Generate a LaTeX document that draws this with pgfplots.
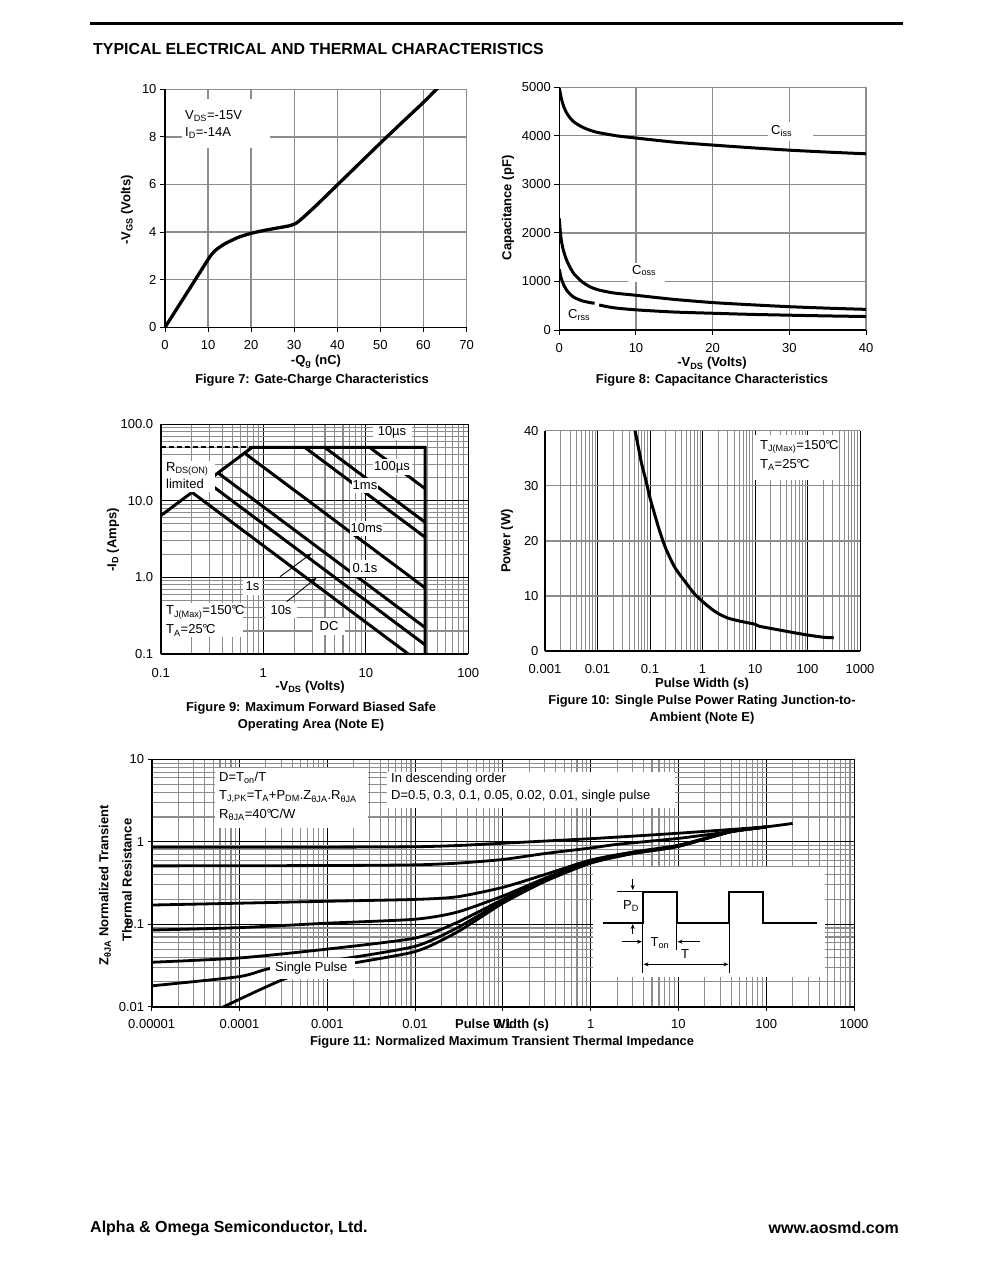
\documentclass[border=0pt]{standalone}
\usepackage{fontspec}
\setmainfont{Liberation Sans}
\usepackage{pgfplots}
\pgfplotsset{compat=1.18}
\usetikzlibrary{arrows.meta}
\definecolor{gridgray}{RGB}{140,140,140}
\newcommand{\fs}[1]{\fontsize{#1}{#1}\selectfont}
\newcommand{\sub}[1]{\textsubscript{#1}}
\newcommand{\degC}{\kern-0.3pt°\kern-1.6ptC}
\pgfplotsset{
  dsbase/.style={scale only axis, anchor=south west, axis x line*=bottom, axis y line*=left,
    axis line style={black,line width=1.5pt}, ticklabel style={font=\fs{13}}, clip=true},
}
\begin{document}
\begin{tikzpicture}
\path[use as bounding box] (0pt,0pt) rectangle (991pt,-1273pt);

% ---------------- Figure 7 ----------------
\begin{axis}[dsbase, at={(165pt,-327.3pt)}, width=301.5pt, height=238pt,
  xmin=0,xmax=70,ymin=0,ymax=10,
  xtick={0,10,20,30,40,50,60,70}, xticklabels={0,10,20,30,40,50,60,70},
  ytick={0,2,4,6,8,10}, yticklabels={0,2,4,6,8,10},
  grid=major, major grid style={gridgray,line width=1.3pt},
  tick align=outside, major tick length=5pt, tick style={black,line width=1pt},
  xticklabel style={yshift=-5pt}]
\addplot[black, line width=3.3pt, smooth, tension=0.3] coordinates {
(0,0)(5,1.42)(10,2.85)(11,3.1)(12,3.28)(14,3.52)(17,3.78)(20,3.95)(23,4.07)(26,4.17)(29,4.27)(30.5,4.38)(32,4.6)(35,5.1)(40,5.98)(45,6.86)(50,7.74)(55,8.6)(60,9.45)(63.3,10.05)};
\end{axis}

% ---------------- Figure 8 ----------------
\begin{axis}[dsbase, at={(559.3pt,-330pt)}, width=306.7pt, height=242.7pt,
  xmin=0,xmax=40,ymin=0,ymax=5000,
  xtick={0,10,20,30,40}, xticklabels={0,10,20,30,40},
  ytick={0,1000,2000,3000,4000,5000}, yticklabels={0,1000,2000,3000,4000,5000},
  grid=major, major grid style={gridgray,line width=1.3pt},
  tick align=outside, major tick length=5pt, tick style={black,line width=1pt},
  xticklabel style={yshift=-5pt}]
\addplot[black, line width=3pt, smooth, tension=0.4] coordinates {
(0,4980)(0.15,4860)(0.3,4750)(0.6,4590)(1,4460)(1.5,4350)(2,4275)(3,4180)(4,4115)(5,4070)(7.5,4000)(10,3955)(15,3870)(20,3810)(25,3755)(30,3705)(35,3665)(40,3630)};
\addplot[black, line width=3pt, smooth, tension=0.4] coordinates {
(0,2300)(0.1,2080)(0.25,1860)(0.5,1660)(0.75,1530)(1,1420)(1.5,1260)(2,1140)(3,990)(4,890)(5,830)(7,765)(10,715)(15,630)(20,565)(25,520)(30,480)(35,450)(40,425)};
\addplot[black, line width=3pt, smooth, tension=0.4] coordinates {
(0,1250)(0.15,1130)(0.3,1040)(0.6,920)(1,810)(1.5,725)(2,665)(3,600)(4,565)(4.6,550)};
\addplot[black, line width=3pt, smooth, tension=0.4] coordinates {
(5.2,515)(7,460)(10,415)(15,370)(20,345)(25,322)(30,305)(35,290)(40,278)};
\end{axis}

% ---------------- Figure 9 ----------------
\begin{axis}[dsbase, at={(160.7pt,-654pt)}, width=307.6pt, height=229.7pt,
  xmode=log, ymode=log, xmin=0.1,xmax=100,ymin=0.1,ymax=100,
  xtick={0.1,1,10,100}, xticklabels={0.1,1,10,100},
  ytick={0.1,1,10,100}, yticklabels={0.1,1.0,10.0,100.0},
  minor xtick={0.2,0.3,0.4,0.5,0.6,0.7,0.8,0.9,2,3,4,5,6,7,8,9,20,30,40,50,60,70,80,90},
  minor ytick={0.2,0.3,0.4,0.5,0.6,0.7,0.8,0.9,2,3,4,5,6,7,8,9,20,30,40,50,60,70,80,90},
  grid=both, major grid style={black,line width=0.9pt}, minor grid style={gridgray,line width=1.1pt},
  major tick length=0pt, minor tick length=0pt, axis line style={black,line width=1.8pt},
  xticklabel style={yshift=-11pt}, yticklabel style={xshift=-4pt}]
\addplot[black, line width=1.8pt, dash pattern=on 5pt off 3pt] coordinates {(0.1,50)(0.78,50)};
\addplot[black, line width=3pt, line join=miter] coordinates {(0.1,6.4)(0.78,50)(38,50)(38,0.1)};
\addplot[black, line width=3pt] coordinates {(0.204,12.8)(26,0.1)};
\addplot[black, line width=3pt] coordinates {(0.279,17.9)(38,0.1316)};
\addplot[black, line width=3pt] coordinates {(0.362,23.2)(38,0.221)};
\addplot[black, line width=3pt] coordinates {(0.657,42.1)(38,0.729)};
\addplot[black, line width=3pt] coordinates {(2.54,50)(38,3.34)};
\addplot[black, line width=3pt] coordinates {(3.98,50)(38,5.24)};
\addplot[black, line width=3pt] coordinates {(10.9,50)(38,14.4)};
\end{axis}

% ---------------- Figure 10 ----------------
\begin{axis}[dsbase, at={(545pt,-651pt)}, width=315pt, height=220.3pt,
  xmode=log, xmin=0.001,xmax=1000,ymin=0,ymax=40,
  xtick={0.001,0.01,0.1,1,10,100,1000}, xticklabels={0.001,0.01,0.1,1,10,100,1000},
  ytick={0,10,20,30,40}, yticklabels={0,10,20,30,40},
  minor xtick={0.002,0.003,0.004,0.005,0.006,0.007,0.008,0.009,0.02,0.03,0.04,0.05,0.06,0.07,0.08,0.09,0.2,0.3,0.4,0.5,0.6,0.7,0.8,0.9,2,3,4,5,6,7,8,9,20,30,40,50,60,70,80,90,200,300,400,500,600,700,800,900},
  xmajorgrids, xminorgrids, ymajorgrids,
  major x grid style={black,line width=0.9pt}, minor x grid style={gridgray,line width=1.1pt},
  major y grid style={gridgray,line width=1.3pt},
  major tick length=0pt, minor tick length=0pt, axis line style={black,line width=1.8pt},
  xticklabel style={yshift=-10pt}, yticklabel style={xshift=-3pt}]
\addplot[black, line width=3pt, smooth, tension=0.4] coordinates {
(0.0518,40)(0.06,37)(0.07,33.8)(0.085,30.7)(0.1,27.8)(0.15,22)(0.2,18.6)(0.3,15.1)(0.5,12.2)(0.7,10.4)(1,9.0)(1.5,7.6)(2,6.8)(3,6.0)(5,5.45)(8,5.05)(10,4.85)(12,4.5)(20,4.1)(50,3.4)(100,2.9)(200,2.5)(316,2.4)};
\end{axis}

% ---------------- Figure 11 ----------------
\begin{axis}[dsbase, at={(151.7pt,-1006.7pt)}, width=702.3pt, height=247.4pt,
  xmode=log, ymode=log, xmin=1e-5,xmax=1000,ymin=0.01,ymax=10,
  xtick={1e-5,1e-4,1e-3,1e-2,0.1,1,10,100,1000},
  xticklabels={0.00001,0.0001,0.001,0.01,0.1,1,10,100,1000},
  ytick={0.01,0.1,1,10}, yticklabels={0.01,0.1,1,10},
  minor xtick={2e-5,3e-5,4e-5,5e-5,6e-5,7e-5,8e-5,9e-5,2e-4,3e-4,4e-4,5e-4,6e-4,7e-4,8e-4,9e-4,2e-3,3e-3,4e-3,5e-3,6e-3,7e-3,8e-3,9e-3,0.02,0.03,0.04,0.05,0.06,0.07,0.08,0.09,0.2,0.3,0.4,0.5,0.6,0.7,0.8,0.9,2,3,4,5,6,7,8,9,20,30,40,50,60,70,80,90,200,300,400,500,600,700,800,900},
  minor ytick={0.02,0.03,0.04,0.05,0.06,0.07,0.08,0.09,0.2,0.3,0.4,0.5,0.6,0.7,0.8,0.9,2,3,4,5,6,7,8,9},
  grid=both, major grid style={black,line width=0.9pt}, minor grid style={gridgray,line width=1.1pt},
  tick align=outside, major tick length=4pt, minor tick length=0pt, tick style={black,line width=1pt},
  axis line style={black,line width=1.8pt},
  xticklabel style={yshift=-5pt}]
\addplot[black, line width=2.8pt, smooth, tension=0.4] coordinates {
(1e-5,0.857)(1e-3,0.86)(0.01,0.87)(0.03,0.9)(0.1,0.96)(0.3,1.02)(1,1.09)(3,1.17)(10,1.27)(30,1.38)(100,1.52)(200,1.67)};
\addplot[black, line width=2.8pt, smooth, tension=0.4] coordinates {
(1e-5,0.51)(1e-3,0.515)(0.01,0.525)(0.03,0.55)(0.1,0.61)(0.3,0.72)(1,0.84)(2,0.93)(10,1.1)(40,1.33)(100,1.51)};
\addplot[black, line width=2.8pt, smooth, tension=0.4] coordinates {
(1e-5,0.171)(1e-4,0.18)(1e-3,0.19)(0.01,0.2)(0.03,0.215)(0.1,0.28)(0.3,0.4)(1,0.6)(3,0.75)(10,0.91)(40,1.33)(100,1.51)};
\addplot[black, line width=2.8pt, smooth, tension=0.4] coordinates {
(1e-5,0.085)(1e-4,0.091)(1e-3,0.103)(0.01,0.115)(0.03,0.14)(0.1,0.22)(0.3,0.36)(1,0.58)(3,0.74)(10,0.9)(40,1.33)(100,1.51)};
\addplot[black, line width=2.8pt, smooth, tension=0.4] coordinates {
(1e-5,0.0346)(1e-4,0.039)(1e-3,0.05)(0.01,0.068)(0.03,0.105)(0.1,0.2)(0.3,0.35)(1,0.57)(3,0.73)(10,0.89)(40,1.33)(100,1.51)};
\addplot[black, line width=2.8pt, smooth, tension=0.4] coordinates {
(1e-5,0.0179)(1e-4,0.0232)(2.3e-4,0.0293)(1.4e-3,0.0376)(0.01,0.054)(0.03,0.09)(0.1,0.19)(0.3,0.34)(1,0.56)(3,0.72)(10,0.88)(40,1.33)(100,1.51)};
\addplot[black, line width=2.8pt, smooth, tension=0.4] coordinates {
(6e-5,0.0095)(3.4e-4,0.0221)(1.4e-3,0.0316)(0.01,0.0466)(0.03,0.08)(0.1,0.18)(0.3,0.33)(1,0.55)(3,0.72)(10,0.88)(40,1.33)(100,1.51)};
\end{axis}

% ---------------- annotations in page coordinates ----------------
\begin{scope}[x=1pt,y=-1pt, every node/.style={inner sep=0pt, font=\fs{13}}]
% page header / footer
\draw[line width=3pt] (90,24) -- (903,24);
\node[anchor=west, font=\bfseries\fs{15.9}] at (93,49) {TYPICAL ELECTRICAL AND THERMAL CHARACTERISTICS};
\node[anchor=west, font=\bfseries\fs{16}] at (90,1228) {Alpha \& Omega Semiconductor, Ltd.};
\node[anchor=east, font=\bfseries\fs{16}] at (899,1228) {www.aosmd.com};

% Fig 7
\fill[white] (182,99) rectangle (270,148);
\node[anchor=west] at (185,116) {V\sub{DS}=-15V};
\node[anchor=west] at (185,133) {I\sub{D}=-14A};
\node[rotate=90, font=\bfseries\fs{13}] at (127,210) {-V\sub{GS} (Volts)};
\node[font=\bfseries\fs{13}] at (316,362) {-Q\sub{g} (nC)};
\node[font=\bfseries\fs{12.9}] at (312,380) {Figure 7: Gate-Charge Characteristics};

% Fig 8
\fill[white] (768,122) rectangle (813,141);
\node[anchor=west] at (771,131) {C\sub{iss}};
\fill[white] (628,263) rectangle (665,282);
\node[anchor=west] at (632,270.5) {C\sub{oss}};
\node[anchor=west] at (568,315) {C\sub{rss}};
\node[rotate=90, font=\bfseries\fs{13}] at (508,208) {Capacitance (pF)};
\node[font=\bfseries\fs{13}] at (712,363.5) {-V\sub{DS} (Volts)};
\node[font=\bfseries\fs{12.9}] at (712,380) {Figure 8: Capacitance Characteristics};

% Fig 9
\fill[white] (161.7,461) rectangle (215,492);
\node[anchor=west] at (166,469) {R\sub{DS(ON)}};
\node[anchor=west] at (166,484) {limited};
\fill[white] (161.7,603) rectangle (243,637);
\node[anchor=west] at (166,612.5) {T\sub{J(Max)}=150\degC};
\node[anchor=west] at (166,630.5) {T\sub{A}=25\degC};
\fill[white] (372.7,425) rectangle (411.7,440); \node at (392,432) {10µs};
\fill[white] (372.7,459) rectangle (411.7,475); \node at (392,467) {100µs};
\fill[white] (351.7,478) rectangle (378.3,493); \node at (365,485.5) {1ms};
\fill[white] (350,521) rectangle (383,536); \node at (366.5,528) {10ms};
\fill[white] (350,560) rectangle (380,577); \node at (365,568) {0.1s};
\fill[white] (243,578) rectangle (262,595); \node at (252.5,586.5) {1s};
\fill[white] (265,603) rectangle (296.7,618); \node at (281,610.5) {10s};
\fill[white] (313,618) rectangle (345,635); \node at (329,626.5) {DC};
\draw[line width=0.9pt, -{Stealth[length=6pt,width=4.5pt]}] (280,576.7) -- (311.7,553.3);
\draw[line width=0.9pt, -{Stealth[length=6pt,width=4.5pt]}] (286.7,601.7) -- (316.7,577.7);
\node[rotate=90, font=\bfseries\fs{13}] at (113,540) {-I\sub{D} (Amps)};
\node[font=\bfseries\fs{13}] at (310,687) {-V\sub{DS} (Volts)};
\node[font=\bfseries\fs{12.9}] at (311,708) {Figure 9: Maximum Forward Biased Safe};
\node[font=\bfseries\fs{12.9}] at (311,725) {Operating Area (Note E)};

% Fig 10
\fill[white] (755,435) rectangle (835,480);
\node[anchor=west] at (760,446.7) {T\sub{J(Max)}=150\degC};
\node[anchor=west] at (760,465) {T\sub{A}=25\degC};
\node[rotate=90, font=\bfseries\fs{13}] at (507,541) {Power (W)};
\node[font=\bfseries\fs{13}] at (702,684) {Pulse Width (s)};
\node[font=\bfseries\fs{12.9}] at (702,701) {Figure 10: Single Pulse Power Rating Junction-to-};
\node[font=\bfseries\fs{12.9}] at (702,718) {Ambient (Note E)};

% Fig 11
\fill[white] (215,768) rectangle (368,828);
\node[anchor=west] at (219,778) {D=T\sub{on}/T};
\node[anchor=west] at (219,797) {T\sub{J,PK}=T\sub{A}+P\sub{DM}.Z\sub{θJA}.R\sub{θJA}};
\node[anchor=west] at (219,815) {R\sub{θJA}=40\degC/W};
\fill[white] (387,771.5) rectangle (675,808);
\node[anchor=west] at (391,779) {In descending order};
\node[anchor=west] at (391,796) {D=0.5, 0.3, 0.1, 0.05, 0.02, 0.01, single pulse};
\fill[white] (270,958.3) rectangle (355,979.3);
\node[anchor=west] at (275,968) {Single Pulse};
% inset
\fill[white] (593.3,866.7) rectangle (825,976.7);
\draw[line width=2pt, line join=miter] (603.3,922.7) -- (642.7,922.7) -- (642.7,891.7) -- (676.7,891.7) -- (676.7,922.7) -- (729.3,922.7) -- (729.3,891.7) -- (762.7,891.7) -- (762.7,922.7) -- (816.7,922.7);
\draw[line width=0.9pt] (616.7,891.7) -- (642.7,891.7);
\draw[line width=0.9pt] (642.7,922.7) -- (642.7,972.7);
\draw[line width=0.9pt] (676.7,922.7) -- (676.7,950);
\draw[line width=0.9pt] (729.3,922.7) -- (729.3,972.7);
\draw[line width=0.9pt, -{Stealth[length=5pt,width=4pt]}] (632.7,879) -- (632.7,890);
\draw[line width=0.9pt, -{Stealth[length=5pt,width=4pt]}] (632.7,934) -- (632.7,924);
\draw[line width=0.9pt, -{Stealth[length=5pt,width=4pt]}] (621.7,941.7) -- (642,941.7);
\draw[line width=0.9pt, -{Stealth[length=5pt,width=4pt]}] (700,941.7) -- (677.5,941.7);
\draw[line width=0.9pt, {Stealth[length=5pt,width=4pt]}-{Stealth[length=5pt,width=4pt]}] (643.5,964.3) -- (728.5,964.3);
\node at (631,906) {P\sub{D}};
\node at (660,943) {T\sub{on}};
\node at (685,954) {T};
\node[rotate=90, font=\bfseries\fs{13}] at (105,885) {Z\sub{θJA} Normalized Transient};
\node[rotate=90, font=\bfseries\fs{13}] at (127,880) {Thermal Resistance};
\node[font=\bfseries\fs{13}] at (502,1025) {Pulse Width (s)};
\node[font=\bfseries\fs{12.9}] at (502,1042) {Figure 11: Normalized Maximum Transient Thermal Impedance};
\end{scope}
\end{tikzpicture}
\end{document}
